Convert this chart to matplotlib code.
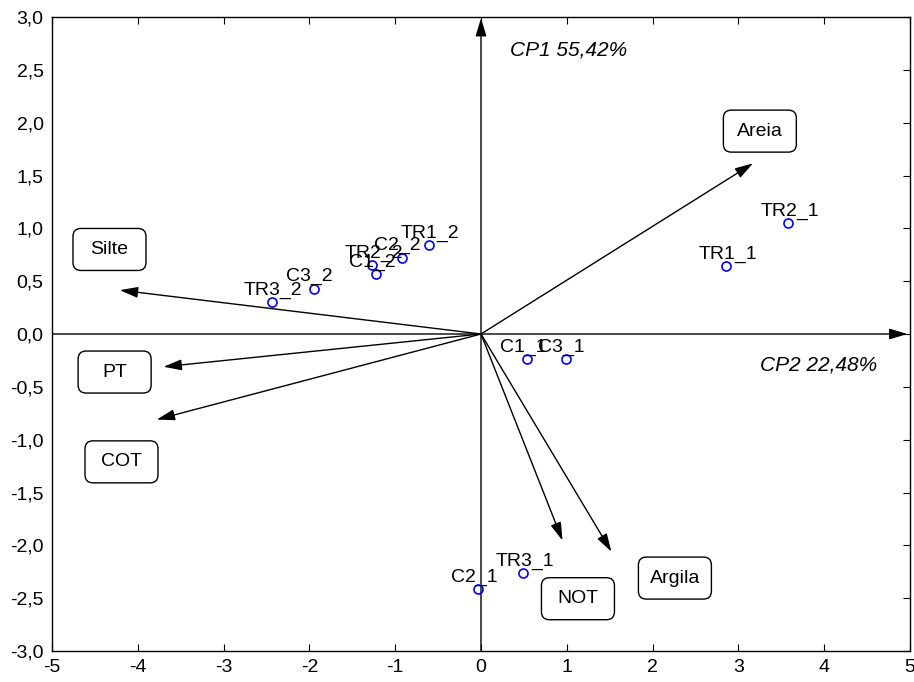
import matplotlib.pyplot as plt
from matplotlib.patches import FancyBboxPatch, FancyArrowPatch
from matplotlib.transforms import ScaledTranslation

plt.rcParams["font.family"] = ["Liberation Sans", "DejaVu Sans"]

# case scores (blue circles)
CASE_LABELS = ["TR1_2", "C2_2", "TR2_2", "C1_2", "C3_2", "TR3_2",
               "C1_1", "C3_1", "C2_1", "TR3_1", "TR2_1", "TR1_1"]
CASE_X = [-0.61, -0.92, -1.27, -1.22, -1.95, -2.44,
          0.54, 0.99, -0.03, 0.49, 3.58, 2.86]
CASE_Y = [0.84, 0.72, 0.65, 0.565, 0.43, 0.30,
          -0.24, -0.24, -2.415, -2.265, 1.05, 0.64]

# variable vectors (arrow tips) and their boxed labels
VAR_NAMES = ["Areia", "Silte", "PT", "COT", "NOT", "Argila"]
VAR_X = [3.17, -4.21, -3.70, -3.78, 0.95, 1.52]
VAR_Y = [1.615, 0.415, -0.31, -0.81, -1.955, -2.06]
BOX_X = [3.25, -4.33, -4.27, -4.19, 1.13, 2.26]
BOX_Y = [1.92, 0.80, -0.36, -1.21, -2.505, -2.31]

X_TICKS = [-5, -4, -3, -2, -1, 0, 1, 2, 3, 4, 5]
Y_TICKS = [-3.0, -2.5, -2.0, -1.5, -1.0, -0.5, 0.0, 0.5, 1.0, 1.5, 2.0, 2.5, 3.0]

ARROW = "-|>,head_length=1,head_width=0.3"

fig = plt.figure(figsize=(9.14, 6.82), dpi=100)
ax = fig.add_axes([52 / 914, 1 - 651 / 682, 858 / 914, 634 / 682])
ax.set_xlim(-5, 5)
ax.set_ylim(-3, 3)

ax.set_xticks(X_TICKS, [f"{t:d}" for t in X_TICKS])
ax.set_yticks(Y_TICKS, [f"{t:.1f}".replace(".", ",") for t in Y_TICKS])
ax.tick_params(axis="both", direction="in", length=5, width=0.8,
               labelsize=14, top=True, right=True, left=False, pad=6)
for spine in ax.spines.values():
    spine.set_linewidth(1.0)

# coordinate axes with arrows
ax.add_patch(FancyArrowPatch((-5, 0), (4.97, 0), arrowstyle=ARROW,
                             mutation_scale=11, color="black", lw=1.0, shrinkA=0, shrinkB=0))
ax.add_patch(FancyArrowPatch((0, -3), (0, 2.99), arrowstyle=ARROW,
                             mutation_scale=11, color="black", lw=1.0, shrinkA=0, shrinkB=0))

for vx, vy in zip(VAR_X, VAR_Y):
    ax.add_patch(FancyArrowPatch((0, 0), (vx, vy), arrowstyle=ARROW,
                                 mutation_scale=11, color="black", lw=1.0, shrinkA=0, shrinkB=0))

# fixed-size rounded label boxes
bw, bh = 0.73, 0.42
for name, bx, by in zip(VAR_NAMES, BOX_X, BOX_Y):
    tr = fig.dpi_scale_trans + ScaledTranslation(bx, by, ax.transData)
    box = FancyBboxPatch((-bw / 2, -bh / 2), bw, bh,
                         boxstyle="round,pad=0,rounding_size=0.08",
                         transform=tr, facecolor="white", edgecolor="black", lw=1.0)
    ax.add_patch(box)
    ax.text(bx, by, name, ha="center", va="center", fontsize=14)

ax.plot(CASE_X, CASE_Y, linestyle="none", marker="o", markersize=6.5,
        markerfacecolor="none", markeredgecolor="blue", markeredgewidth=1.2)
for lab, cx, cy in zip(CASE_LABELS, CASE_X, CASE_Y):
    ax.annotate(lab, (cx, cy), xytext=(-20, 5.5), textcoords="offset points",
                ha="left", va="baseline", fontsize=14)

ax.text(0.34, 2.69, "CP1 55,42%", style="italic", fontsize=15, va="center", ha="left")
ax.text(3.25, -0.29, "CP2 22,48%", style="italic", fontsize=15, va="center", ha="left")

fig.savefig("out.png", dpi=100)
